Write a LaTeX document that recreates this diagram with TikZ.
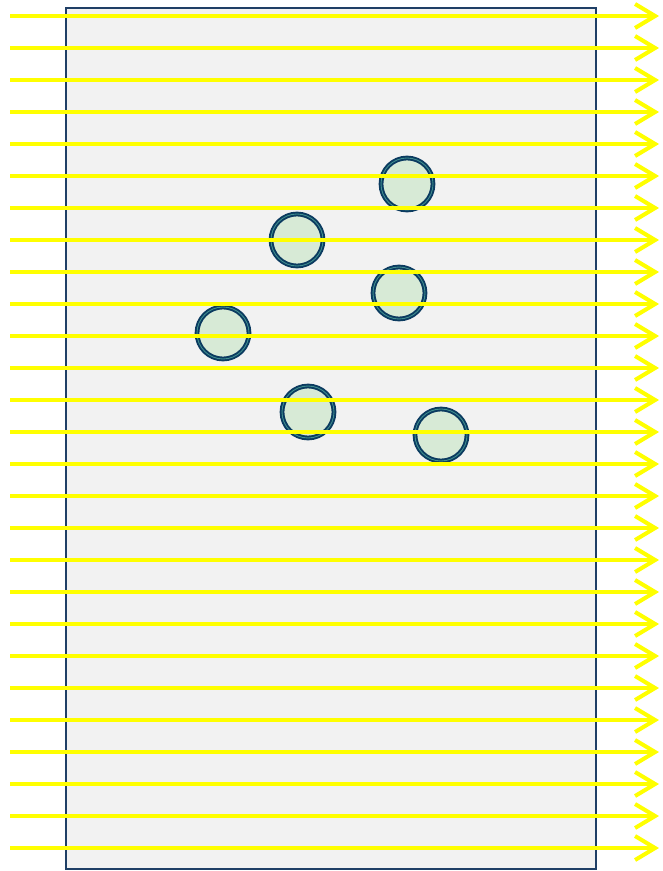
\documentclass[tikz,border=0pt]{standalone}
\usetikzlibrary{arrows.meta}

\definecolor{panelgray}{HTML}{F2F2F2}
\definecolor{panelblue}{HTML}{1F3F66}
\definecolor{rayyellow}{HTML}{FFFF00}
\definecolor{cellgreen}{HTML}{D7EAD6}
\definecolor{cellblue}{HTML}{0B3B60}
\definecolor{cellteal}{HTML}{3F8F8F}

\tikzset{
	cell/.style={circle, inner sep=0pt, minimum size=1.04cm, fill=cellgreen,
		draw=cellblue, line width=1.1pt, double=cellteal, double distance=0.5pt},
	ray/.style={rayyellow, line width=2.3pt,
		-{Straight Barb[length=4mm, width=4.8mm, line width=2.3pt]}},
}

\begin{document}
\begin{tikzpicture}[x=0.02cm, y=-0.02cm]
	\useasboundingbox (0,0) rectangle (662,871);

	% --- Sample panel ---
	\draw[panelblue, fill=panelgray, line width=1.1pt] (66,8) rectangle (596,869);

	% --- Cells ---
	\node[cell] (c1) at (407,184) {};
	\node[cell] (c2) at (297,240) {};
	\node[cell] (c3) at (399,293) {};
	\node[cell] (c4) at (223,333) {};
	\node[cell] (c5) at (308,412) {};
	\node[cell] (c6) at (441,435) {};

	% --- Rays ---
	\foreach \k in {0,...,26} {
		\coordinate (s\k) at (10, 16+32*\k);
		\coordinate (e\k) at (659, 16+32*\k);
		\draw[ray] (s\k) -- (e\k);
	}

\end{tikzpicture}
\end{document}
